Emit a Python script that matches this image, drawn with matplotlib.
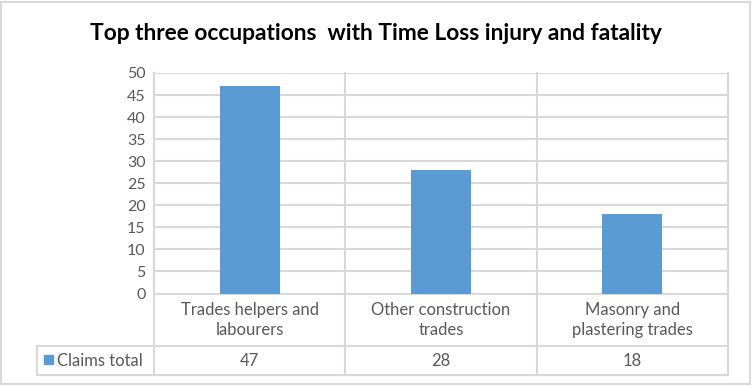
import matplotlib

matplotlib.use("Agg")
import matplotlib.pyplot as plt
import matplotlib.transforms as mtransforms
from matplotlib.patches import Rectangle

# data
categories = ["Trades helpers and\nlabourers", "Other construction\ntrades", "Masonry and\nplastering trades"]
claims = [47, 28, 18]
series_name = "Claims total"
title = "Top three occupations  with Time Loss injury and fatality"

W, H = 752, 387
bar_color = "#5b9bd5"
grid_color = "#d9d9d9"
text_color = "#595959"

plt.rcParams["font.family"] = ["Lato", "DejaVu Sans"]

fig = plt.figure(figsize=(W / 100, H / 100), dpi=100)

# outer chart frame
fig.patches.append(
    Rectangle((1 / W, 3 / H), 749 / W, 382 / H, transform=fig.transFigure,
              fill=False, edgecolor=grid_color, lw=1.5)
)

# plot area in pixels
left, right, top, bottom = 154, 728, 73, 293.5
ax = fig.add_axes([left / W, 1 - bottom / H, (right - left) / W, (bottom - top) / H])

x = list(range(len(claims)))
ax.bar(x, claims, width=0.314, color=bar_color, zorder=3)
ax.set_xlim(-0.5, len(claims) - 0.5)
ax.set_ylim(0, 50)
ax.set_yticks(range(0, 51, 5))
ax.set_xticks([])
ax.tick_params(axis="y", length=0, pad=6, labelsize=11.5, labelcolor=text_color)
ax.grid(axis="y", color=grid_color, lw=1.5, zorder=0)
ax.set_axisbelow(True)
ax.spines["top"].set_visible(False)
for side in ["left", "right", "bottom"]:
    ax.spines[side].set_color(grid_color)
    ax.spines[side].set_linewidth(1.5)

# data table below the plot area
trans = mtransforms.blended_transform_factory(ax.transData, ax.transAxes)
px = (bottom - top)  # axes height in pixels
row1 = -(346 - bottom) / px
row2 = -(375 - bottom) / px
x_leg = -0.5 + (36.7 - left) / ((right - left) / len(claims))

line_kw = dict(color=grid_color, lw=1.5, transform=trans, clip_on=False, zorder=1)
for xv in [-0.5 + i for i in range(len(claims) + 1)]:
    ax.plot([xv, xv], [1, row2], **line_kw)
ax.plot([x_leg, len(claims) - 0.5], [row1, row1], **line_kw)
ax.plot([x_leg, len(claims) - 0.5], [row2, row2], **line_kw)
ax.plot([x_leg, x_leg], [row1, row2], **line_kw)

for i, (cat, val) in enumerate(zip(categories, claims)):
    ax.text(i, (0 + row1) / 2, cat, transform=trans, ha="center", va="center",
            fontsize=12, color=text_color, linespacing=1.3)
    ax.text(i, (row1 + row2) / 2, str(val), transform=trans, ha="center", va="center",
            fontsize=12, color=text_color)

# legend key and series name in the table
fig.patches.append(
    Rectangle((44 / W, 1 - 364 / H), 9 / W, 9 / H, transform=fig.transFigure,
              color=bar_color)
)
fig.text(57 / W, 1 - 360.5 / H, series_name, ha="left", va="center",
         fontsize=12, color=text_color)

fig.text(0.5, 1 - 33 / H, title, ha="center", va="center",
         fontsize=16.4, fontweight="bold", color="black")

fig.savefig("out.png", dpi=100)
